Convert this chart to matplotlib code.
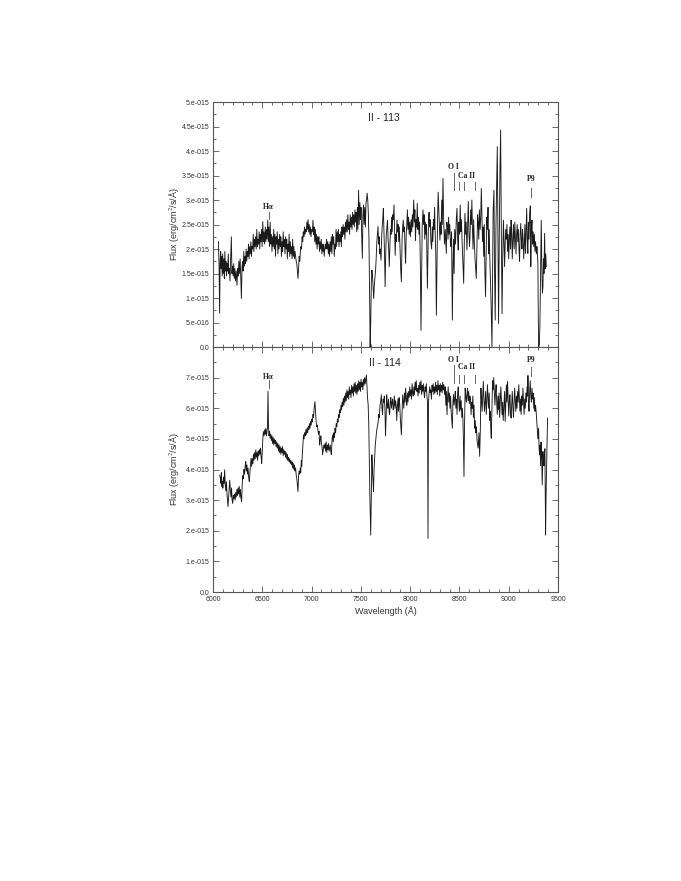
import numpy as np
import matplotlib
matplotlib.use("Agg")
import matplotlib.pyplot as plt
from matplotlib.ticker import MultipleLocator, FuncFormatter

# ------------------ DATOS (flujo en unidades de 1e-15 erg/cm2/s/A) ------------------
wl_113 = [6055, 6062, 6067, 6072, 6078, 6083, 6088, 6093, 6098, 6104, 6110, 6115, 6120, 6126, 6131, 6137,
          6142, 6148, 6155, 6160, 6166, 6172, 6178, 6186, 6192, 6198, 6204, 6210, 6216, 6222, 6228, 6236,
          6243, 6250, 6256, 6262, 6268, 6275, 6282, 6288, 6294, 6300, 6306, 6312, 6318, 6324, 6330, 6336,
          6342, 6348, 6354, 6360, 6366, 6372, 6378, 6384, 6390, 6396, 6402, 6408, 6414, 6420, 6426, 6432,
          6438, 6444, 6450, 6456, 6462, 6468, 6474, 6480, 6486, 6492, 6498, 6505, 6511, 6517, 6523, 6530,
          6536, 6542, 6548, 6555, 6561, 6567, 6573, 6580, 6586, 6592, 6598, 6604, 6610, 6616, 6622, 6628,
          6634, 6640, 6646, 6652, 6658, 6664, 6670, 6676, 6682, 6688, 6694, 6700, 6706, 6712, 6718, 6724,
          6730, 6736, 6742, 6748, 6754, 6760, 6766, 6772, 6778, 6784, 6790, 6796, 6802, 6808, 6814, 6820,
          6826, 6832, 6838, 6844, 6850, 6856, 6862, 6868, 6874, 6880, 6886, 6892, 6898, 6904, 6910, 6916,
          6922, 6928, 6934, 6940, 6946, 6952, 6958, 6964, 6970, 6976, 6982, 6988, 6994, 7000, 7008, 7014,
          7020, 7026, 7032, 7038, 7044, 7050, 7056, 7062, 7068, 7074, 7080, 7086, 7092, 7098, 7104, 7110,
          7116, 7122, 7128, 7134, 7140, 7146, 7152, 7158, 7164, 7170, 7176, 7182, 7188, 7194, 7200, 7206,
          7212, 7218, 7224, 7230, 7236, 7242, 7248, 7254, 7260, 7266, 7272, 7278, 7284, 7290, 7296, 7302,
          7308, 7314, 7320, 7326, 7332, 7338, 7344, 7350, 7356, 7362, 7368, 7374, 7380, 7386, 7392, 7398,
          7404, 7410, 7416, 7422, 7428, 7434, 7440, 7446, 7452, 7458, 7464, 7470, 7477, 7483, 7490, 7496,
          7502, 7508, 7515, 7521, 7527, 7533, 7540, 7546, 7552, 7558, 7563, 7570, 7576, 7582, 7588, 7594,
          7600, 7606, 7612, 7618, 7624, 7630, 7636, 7642, 7650, 7656, 7662, 7668, 7674, 7680, 7686, 7692,
          7698, 7704, 7710, 7716, 7722, 7728, 7734, 7740, 7746, 7752, 7758, 7764, 7770, 7776, 7782, 7788,
          7794, 7800, 7806, 7812, 7818, 7824, 7830, 7836, 7842, 7848, 7854, 7860, 7866, 7872, 7878, 7884,
          7890, 7896, 7904, 7911, 7918, 7924, 7930, 7936, 7942, 7948, 7954, 7960, 7966, 7972, 7978, 7984,
          7990, 7996, 8002, 8010, 8016, 8022, 8028, 8036, 8042, 8048, 8054, 8060, 8066, 8072, 8078, 8084,
          8090, 8096, 8104, 8110, 8116, 8122, 8130, 8136, 8142, 8148, 8154, 8160, 8166, 8170, 8175, 8180,
          8186, 8192, 8198, 8204, 8210, 8218, 8224, 8230, 8236, 8242, 8248, 8254, 8260, 8266, 8272, 8278,
          8284, 8290, 8296, 8302, 8308, 8314, 8320, 8326, 8333, 8340, 8348, 8356, 8360, 8367, 8372, 8378,
          8384, 8390, 8396, 8402, 8408, 8414, 8420, 8428, 8434, 8440, 8446, 8452, 8460, 8468, 8475, 8482,
          8488, 8494, 8500, 8508, 8514, 8520, 8528, 8535, 8543, 8550, 8556, 8562, 8568, 8576, 8582, 8590,
          8596, 8602, 8608, 8614, 8620, 8626, 8632, 8638, 8644, 8650, 8658, 8665, 8671, 8678, 8684, 8690,
          8696, 8702, 8710, 8716, 8722, 8728, 8734, 8740, 8746, 8752, 8758, 8765, 8772, 8778, 8784, 8790,
          8796, 8802, 8808, 8815, 8822, 8830, 8836, 8842, 8850, 8856, 8863, 8870, 8877, 8884, 8890, 8897,
          8904, 8911, 8918, 8924, 8932, 8939, 8946, 8952, 8958, 8964, 8970, 8976, 8982, 8988, 8994, 9000,
          9006, 9012, 9018, 9024, 9030, 9036, 9042, 9048, 9055, 9062, 9068, 9074, 9080, 9086, 9092, 9098,
          9104, 9110, 9116, 9122, 9128, 9134, 9140, 9146, 9152, 9158, 9164, 9170, 9176, 9182, 9188, 9194,
          9200, 9206, 9212, 9219, 9224, 9230, 9236, 9242, 9248, 9254, 9260, 9266, 9272, 9280, 9286, 9290,
          9296, 9300, 9304, 9310, 9316, 9322, 9330, 9336, 9342, 9347, 9352, 9358, 9364, 9370, 9376, 9381]
flux_113 = [2.15, 1.60, 0.69, 1.75, 1.95, 1.60, 1.85, 1.45, 1.90, 1.50, 1.80, 1.40, 1.95, 1.55, 1.75, 1.45,
            1.70, 1.55, 1.90, 1.50, 1.60, 1.35, 1.75, 2.25, 1.50, 1.65, 1.45, 1.70, 1.40, 1.60, 1.35, 1.55,
            1.26, 1.60, 1.45, 1.75, 1.50, 1.80, 1.40, 0.99, 1.60, 1.75, 1.55, 1.95, 1.65, 1.85, 1.70, 2.00,
            1.75, 1.95, 1.85, 2.10, 1.80, 2.05, 1.90, 2.15, 1.85, 2.05, 2.00, 2.30, 1.95, 2.20, 2.05, 2.25,
            2.00, 2.40, 2.05, 2.20, 2.10, 2.35, 2.00, 2.30, 2.15, 2.40, 2.05, 2.56, 2.15, 2.35, 2.10, 2.45,
            2.15, 2.40, 2.20, 2.59, 2.15, 2.45, 2.05, 2.55, 2.10, 2.30, 1.95, 2.25, 2.05, 2.40, 2.00, 2.30,
            1.85, 2.25, 2.10, 2.35, 1.90, 2.20, 2.00, 2.30, 2.05, 2.25, 1.85, 2.15, 1.95, 2.35, 2.05, 2.20,
            1.90, 2.25, 2.00, 2.20, 1.80, 2.10, 1.95, 2.30, 1.85, 2.15, 1.90, 2.05, 1.80, 2.20, 1.85, 2.05,
            1.80, 1.95, 1.85, 1.75, 1.70, 1.55, 1.40, 1.60, 1.85, 1.75, 1.95, 2.05, 2.00, 2.25, 2.15, 2.35,
            2.25, 2.45, 2.30, 2.40, 2.35, 2.55, 2.40, 2.60, 2.35, 2.50, 2.30, 2.45, 2.25, 2.40, 2.35, 2.59,
            2.30, 2.45, 2.15, 2.40, 2.10, 2.30, 2.00, 2.25, 2.10, 2.25, 1.95, 2.15, 2.00, 2.20, 1.90, 2.10,
            1.95, 2.10, 1.85, 2.00, 2.10, 2.00, 2.20, 2.00, 2.15, 1.90, 2.10, 1.85, 2.15, 1.95, 2.25, 1.90,
            2.30, 2.10, 2.25, 1.85, 2.10, 2.00, 2.40, 2.05, 2.35, 2.15, 2.40, 2.05, 2.30, 2.15, 2.35, 2.05,
            2.45, 2.25, 2.50, 2.30, 2.45, 2.20, 2.55, 2.35, 2.60, 2.35, 2.70, 2.40, 2.55, 2.30, 2.70, 2.45,
            2.65, 2.40, 2.75, 2.50, 2.70, 2.45, 2.80, 2.55, 2.75, 2.35, 2.85, 2.40, 3.20, 2.50, 2.95, 2.60,
            2.85, 2.30, 1.81, 2.70, 2.90, 2.50, 2.85, 2.45, 2.95, 3.00, 3.14, 3.00, 2.70, 2.20, 1.20, 0.00,
            0.50, 1.30, 1.57, 1.45, 1.20, 0.99, 1.25, 1.40, 1.60, 1.84, 2.15, 2.30, 2.46, 2.10, 2.25, 1.90,
            2.00, 1.77, 2.20, 2.45, 2.60, 2.83, 2.40, 1.90, 1.23, 1.90, 2.30, 2.45, 2.59, 2.20, 2.00, 1.64,
            2.05, 2.40, 2.30, 2.65, 2.35, 2.70, 2.60, 2.90, 2.40, 1.87, 2.30, 2.15, 2.59, 2.35, 2.50, 2.15,
            2.45, 2.10, 1.60, 1.33, 2.20, 2.45, 2.59, 2.35, 2.45, 2.00, 1.71, 2.30, 2.50, 2.80, 2.40, 2.65,
            2.30, 2.55, 2.25, 2.60, 2.35, 2.70, 2.45, 3.00, 2.55, 2.80, 2.17, 2.60, 2.45, 2.93, 2.40, 2.65,
            2.30, 2.55, 1.60, 0.34, 1.50, 2.45, 2.80, 2.50, 2.70, 2.20, 2.55, 2.30, 2.50, 1.80, 1.20, 1.90,
            2.60, 2.75, 2.45, 2.60, 2.15, 2.00, 2.45, 2.15, 2.60, 2.40, 2.85, 2.30, 1.90, 0.65, 1.70, 2.60,
            3.16, 2.80, 2.50, 2.18, 2.55, 2.30, 3.00, 2.50, 3.44, 2.60, 2.10, 2.40, 2.20, 1.91, 2.55, 2.46,
            2.20, 2.65, 2.30, 2.50, 2.15, 2.05, 2.35, 0.55, 1.60, 2.20, 1.50, 2.40, 2.10, 2.60, 2.83, 2.20,
            1.98, 2.55, 2.30, 2.90, 2.35, 2.60, 2.10, 1.75, 1.30, 2.20, 2.73, 2.30, 2.55, 1.98, 2.40, 2.97,
            2.35, 2.05, 2.30, 2.80, 2.50, 3.00, 2.40, 2.00, 2.60, 2.20, 1.80, 1.60, 1.40, 2.10, 2.70, 2.55,
            2.20, 2.80, 2.40, 2.65, 3.24, 2.70, 2.15, 2.45, 1.85, 2.50, 1.55, 1.03, 2.00, 2.65, 2.40, 2.85,
            1.90, 2.40, 1.80, 1.35, 0.80, 0.00, 1.50, 2.80, 3.20, 1.60, 0.55, 2.40, 3.30, 4.09, 2.30, 0.48,
            2.20, 3.60, 4.43, 2.60, 0.68, 1.80, 2.59, 2.20, 1.64, 2.10, 2.40, 2.20, 2.50, 1.95, 2.30, 1.80,
            2.20, 2.45, 2.00, 2.59, 2.30, 1.80, 2.20, 2.50, 2.00, 2.55, 2.20, 1.90, 2.30, 2.50, 2.15, 2.40,
            2.00, 1.75, 2.30, 2.52, 2.20, 2.00, 2.40, 2.20, 1.80, 2.10, 2.50, 1.91, 2.40, 2.83, 2.20, 1.91,
            2.55, 2.20, 2.70, 2.88, 1.64, 2.40, 2.59, 2.10, 2.35, 2.05, 2.30, 1.95, 2.15, 1.90, 2.05, 1.95,
            1.70, 0.60, 0.00, 0.05, 0.40, 1.30, 2.59, 1.60, 1.10, 1.23, 1.80, 1.50, 2.32, 1.60, 1.90, 1.64]

wl_114 = [6068, 6075, 6080, 6085, 6090, 6095, 6100, 6106, 6112, 6118, 6124, 6130, 6136, 6142, 6146, 6152,
          6158, 6164, 6170, 6176, 6182, 6188, 6194, 6200, 6206, 6212, 6218, 6224, 6230, 6236, 6242, 6248,
          6254, 6260, 6266, 6272, 6278, 6284, 6290, 6296, 6302, 6308, 6314, 6320, 6326, 6332, 6338, 6344,
          6350, 6356, 6362, 6368, 6374, 6380, 6386, 6392, 6398, 6404, 6410, 6416, 6422, 6428, 6434, 6440,
          6446, 6452, 6458, 6464, 6470, 6476, 6482, 6488, 6494, 6500, 6506, 6512, 6518, 6524, 6530, 6536,
          6542, 6548, 6552, 6558, 6563, 6568, 6574, 6580, 6586, 6592, 6598, 6604, 6610, 6616, 6622, 6628,
          6634, 6640, 6646, 6652, 6658, 6664, 6670, 6676, 6682, 6688, 6694, 6700, 6706, 6712, 6718, 6724,
          6730, 6736, 6742, 6748, 6754, 6760, 6766, 6772, 6778, 6784, 6790, 6796, 6802, 6808, 6814, 6820,
          6826, 6832, 6838, 6844, 6850, 6856, 6862, 6868, 6874, 6880, 6886, 6890, 6896, 6900, 6906, 6912,
          6918, 6924, 6930, 6936, 6942, 6948, 6954, 6960, 6966, 6972, 6978, 6984, 6990, 6996, 7002, 7008,
          7014, 7020, 7026, 7034, 7040, 7046, 7052, 7058, 7064, 7070, 7076, 7082, 7088, 7094, 7100, 7106,
          7112, 7118, 7124, 7130, 7136, 7142, 7148, 7154, 7160, 7166, 7172, 7178, 7184, 7190, 7196, 7201,
          7208, 7214, 7220, 7226, 7232, 7238, 7244, 7250, 7256, 7262, 7268, 7274, 7280, 7286, 7292, 7298,
          7304, 7310, 7316, 7322, 7328, 7334, 7340, 7346, 7352, 7358, 7364, 7370, 7376, 7382, 7388, 7394,
          7400, 7406, 7412, 7418, 7424, 7430, 7436, 7442, 7448, 7454, 7460, 7466, 7472, 7478, 7484, 7490,
          7496, 7502, 7508, 7514, 7520, 7526, 7532, 7538, 7544, 7550, 7556, 7562, 7568, 7574, 7580, 7586,
          7592, 7600, 7606, 7612, 7618, 7624, 7628, 7634, 7640, 7646, 7652, 7658, 7664, 7670, 7676, 7682,
          7688, 7694, 7700, 7708, 7714, 7720, 7726, 7732, 7738, 7744, 7750, 7756, 7762, 7768, 7774, 7780,
          7786, 7792, 7798, 7804, 7810, 7816, 7822, 7828, 7834, 7840, 7846, 7852, 7858, 7864, 7870, 7876,
          7882, 7888, 7894, 7900, 7906, 7911, 7918, 7924, 7930, 7936, 7942, 7948, 7954, 7960, 7966, 7972,
          7978, 7984, 7990, 7996, 8002, 8008, 8014, 8020, 8026, 8032, 8038, 8044, 8050, 8056, 8062, 8068,
          8074, 8080, 8086, 8092, 8098, 8104, 8110, 8116, 8122, 8128, 8134, 8140, 8146, 8152, 8158, 8164,
          8170, 8176, 8179, 8181, 8183, 8186, 8192, 8198, 8204, 8210, 8216, 8222, 8228, 8234, 8240, 8246,
          8252, 8258, 8264, 8270, 8276, 8282, 8288, 8294, 8300, 8306, 8312, 8318, 8324, 8330, 8336, 8342,
          8350, 8356, 8362, 8368, 8374, 8380, 8386, 8392, 8398, 8404, 8410, 8416, 8422, 8428, 8434, 8440,
          8446, 8452, 8458, 8464, 8470, 8476, 8482, 8488, 8494, 8500, 8506, 8512, 8518, 8524, 8530, 8536,
          8540, 8546, 8552, 8558, 8564, 8570, 8576, 8582, 8588, 8594, 8600, 8606, 8612, 8618, 8624, 8630,
          8636, 8642, 8648, 8654, 8660, 8666, 8672, 8680, 8690, 8698, 8705, 8712, 8718, 8724, 8730, 8736,
          8742, 8748, 8754, 8760, 8766, 8772, 8778, 8784, 8790, 8796, 8802, 8808, 8814, 8818, 8823, 8830,
          8836, 8842, 8848, 8854, 8860, 8866, 8872, 8878, 8884, 8890, 8896, 8902, 8908, 8914, 8920, 8926,
          8932, 8938, 8944, 8950, 8958, 8964, 8970, 8976, 8982, 8988, 8994, 9000, 9006, 9012, 9018, 9024,
          9030, 9036, 9042, 9048, 9054, 9060, 9066, 9072, 9078, 9084, 9090, 9096, 9102, 9108, 9114, 9120,
          9126, 9132, 9138, 9144, 9150, 9156, 9162, 9168, 9174, 9180, 9186, 9192, 9195, 9200, 9206, 9212,
          9218, 9224, 9230, 9236, 9242, 9248, 9254, 9260, 9266, 9272, 9278, 9284, 9290, 9296, 9303, 9308,
          9313, 9318, 9323, 9328, 9333, 9340, 9347, 9352, 9357, 9362, 9367, 9371, 9374, 9379, 9384, 9389,
          9394]
flux_114 = [3.82, 3.70, 3.55, 3.90, 3.45, 3.61, 3.39, 3.75, 3.55, 3.99, 3.50, 3.30, 3.60, 3.20, 3.05, 2.79,
            3.10, 3.39, 3.65, 3.30, 3.10, 3.40, 3.00, 2.90, 3.15, 3.05, 3.20, 3.00, 3.25, 3.10, 3.35, 3.15,
            3.40, 3.20, 3.45, 3.10, 3.35, 3.05, 2.95, 3.50, 3.80, 3.70, 4.00, 3.85, 4.10, 4.26, 3.95, 4.15,
            3.85, 4.04, 3.75, 3.61, 3.90, 4.15, 4.37, 4.10, 4.35, 4.20, 4.50, 4.30, 4.55, 4.35, 4.64, 4.40,
            4.55, 4.30, 4.60, 4.45, 4.65, 4.50, 4.70, 4.40, 4.20, 4.60, 5.05, 5.24, 5.10, 5.30, 5.15, 5.35,
            5.10, 5.25, 5.35, 6.55, 5.40, 5.10, 5.25, 5.02, 5.15, 4.95, 5.10, 4.85, 5.05, 4.80, 5.00, 4.85,
            4.95, 4.75, 4.90, 4.70, 4.85, 4.60, 4.80, 4.55, 4.75, 4.50, 4.70, 4.55, 4.75, 4.45, 4.65, 4.50,
            4.60, 4.40, 4.55, 4.35, 4.50, 4.30, 4.40, 4.25, 4.35, 4.20, 4.30, 4.15, 4.25, 4.05, 4.20, 4.00,
            4.15, 3.95, 4.05, 3.82, 3.70, 3.50, 3.28, 3.80, 3.95, 3.85, 4.05, 3.90, 4.30, 4.10, 4.50, 4.80,
            5.13, 5.00, 5.20, 5.10, 5.30, 5.15, 5.35, 5.20, 5.40, 5.30, 5.50, 5.35, 5.57, 5.45, 5.65, 5.55,
            5.80, 5.70, 6.00, 6.22, 5.90, 5.57, 5.40, 5.45, 5.30, 5.15, 5.25, 4.80, 5.00, 5.10, 4.85, 4.75,
            4.48, 4.65, 4.80, 4.70, 4.85, 4.60, 4.90, 4.55, 4.80, 4.65, 4.85, 4.60, 4.70, 4.80, 4.55, 4.48,
            5.00, 5.13, 4.90, 5.20, 5.05, 5.35, 5.20, 5.50, 5.40, 5.65, 5.55, 5.79, 5.70, 5.95, 5.85, 6.10,
            5.95, 6.20, 6.05, 6.33, 6.10, 6.40, 6.20, 6.50, 6.25, 6.60, 6.35, 6.55, 6.30, 6.70, 6.45, 6.60,
            6.35, 6.75, 6.50, 6.70, 6.40, 6.80, 6.55, 6.85, 6.50, 6.75, 6.45, 6.80, 6.55, 6.90, 6.60, 6.85,
            6.55, 6.95, 6.70, 6.85, 6.60, 6.95, 6.75, 7.00, 6.80, 6.95, 7.09, 6.70, 6.33, 6.11, 5.50, 4.30,
            3.00, 1.86, 3.20, 4.48, 3.90, 3.60, 3.28, 4.00, 4.40, 4.80, 5.02, 5.20, 5.35, 5.45, 5.57, 5.80,
            5.70, 6.10, 6.20, 6.44, 6.00, 5.80, 6.30, 6.20, 6.40, 6.00, 5.10, 5.70, 6.44, 6.10, 6.00, 6.30,
            5.90, 5.80, 6.20, 6.35, 6.00, 6.20, 6.30, 5.95, 6.10, 6.40, 6.00, 6.25, 6.10, 5.60, 6.05, 6.30,
            5.90, 6.35, 6.15, 5.70, 5.40, 5.13, 5.80, 6.44, 6.20, 6.00, 6.50, 6.20, 6.66, 6.30, 6.10, 6.50,
            6.20, 6.55, 6.35, 6.70, 6.40, 6.60, 6.30, 6.80, 6.50, 6.40, 6.70, 6.45, 6.85, 6.60, 6.90, 6.55,
            6.65, 6.40, 6.75, 6.50, 6.85, 6.60, 6.90, 6.45, 6.75, 6.55, 6.80, 6.50, 6.35, 6.70, 6.55, 6.80,
            6.40, 6.20, 3.60, 1.75, 3.40, 6.20, 6.50, 6.70, 6.50, 6.60, 6.30, 6.75, 6.55, 6.80, 6.45, 6.70,
            6.50, 6.85, 6.55, 6.75, 6.45, 6.90, 6.60, 6.75, 6.40, 6.80, 6.55, 6.75, 6.50, 6.85, 6.60, 6.77,
            6.45, 6.70, 6.10, 6.55, 5.79, 6.40, 6.70, 6.20, 6.50, 6.00, 6.40, 5.90, 5.60, 5.35, 6.20, 6.45,
            6.10, 6.30, 6.55, 6.00, 6.30, 5.80, 6.50, 6.70, 6.20, 5.90, 6.40, 5.95, 6.25, 5.70, 6.00, 5.57,
            5.00, 3.77, 5.50, 6.66, 6.40, 6.20, 6.45, 6.66, 6.25, 6.55, 6.15, 6.40, 6.30, 5.79, 6.20, 6.00,
            6.40, 5.70, 6.10, 5.35, 5.60, 5.20, 5.40, 4.90, 4.70, 5.20, 4.43, 5.30, 6.66, 6.20, 5.90, 6.40,
            6.88, 6.30, 5.90, 6.20, 6.55, 5.80, 6.20, 6.77, 6.40, 6.00, 6.50, 5.60, 5.90, 5.30, 5.02, 6.00,
            6.90, 6.60, 7.00, 6.50, 6.10, 6.50, 6.77, 6.20, 5.80, 6.40, 5.95, 6.50, 5.70, 6.20, 6.70, 6.30,
            5.79, 6.20, 5.60, 6.00, 6.55, 5.57, 6.10, 6.77, 6.20, 6.88, 6.30, 5.75, 6.20, 6.44, 5.90, 5.68,
            6.10, 6.55, 6.05, 5.70, 6.20, 6.66, 6.30, 5.90, 6.40, 6.00, 6.55, 6.20, 6.77, 6.30, 5.90, 6.30,
            5.80, 6.40, 6.10, 6.66, 6.20, 5.80, 6.30, 6.00, 6.50, 6.20, 6.70, 6.40, 7.07, 6.20, 5.90, 6.50,
            6.90, 6.40, 6.20, 6.66, 6.30, 6.50, 6.00, 6.35, 5.90, 6.10, 5.90, 5.60, 5.35, 5.00, 5.35, 4.70,
            4.48, 4.80, 4.12, 4.90, 4.60, 3.50, 4.59, 4.30, 4.12, 4.50, 4.68, 3.00, 1.86, 3.20, 4.12, 4.90,
            5.68]

# lineas identificadas: (nombre, longitud de onda)
lineas = ["Ha", "OI", "CaII_1", "CaII_2", "CaII_3", "P9"]
lineas_wl = [6563, 8446, 8498, 8542, 8662, 9229]

# marcas de identificacion por panel (y0, y1 en 1e-15)
marcas_113 = {"Ha": (2.61, 2.76), "OI": (3.20, 3.55), "CaII_1": (3.20, 3.37), "CaII_2": (3.20, 3.37),
              "CaII_3": (3.20, 3.37), "P9": (3.06, 3.24)}
marcas_114 = {"Ha": (6.67, 6.93), "OI": (6.83, 7.42), "CaII_1": (6.83, 7.09), "CaII_2": (6.83, 7.09),
              "CaII_3": (6.83, 7.09), "P9": (7.04, 7.36)}
textos_113 = [("H$\\mathbf{\\alpha}$", 6566, 2.87), ("O I", 8437, 3.67), ("Ca II", 8568, 3.49), ("P9", 9225, 3.42)]
textos_114 = [("H$\\mathbf{\\alpha}$", 6566, 7.04), ("O I", 8437, 7.58), ("Ca II", 8568, 7.36), ("P9", 9225, 7.58)]

# ------------------ GRAFICO ------------------
plt.rcParams["font.family"] = ["Liberation Sans", "DejaVu Sans"]
plt.rcParams["mathtext.fontset"] = "stix"

ESCALA = 1e-15
GRIS = "#555555"


def etiqueta_y(v, pos):
    if abs(v) < 1e-30:
        return "0.0"
    exp = int(np.floor(np.log10(abs(v)) + 1e-9))
    m = v / 10 ** exp
    ms = f"{m:g}"
    if "." not in ms:
        ms += "."
    return f"{ms}e-{abs(exp):03d}"


def estilo(ax, ymax, mayor, menor):
    ax.set_xlim(6000, 9500)
    ax.set_ylim(0, ymax)
    ax.xaxis.set_major_locator(MultipleLocator(500))
    ax.xaxis.set_minor_locator(MultipleLocator(100))
    ax.yaxis.set_major_locator(MultipleLocator(mayor))
    ax.yaxis.set_minor_locator(MultipleLocator(menor))
    ax.yaxis.set_major_formatter(FuncFormatter(etiqueta_y))
    ax.tick_params(which="both", direction="in", top=True, right=True, color=GRIS, width=0.6)
    ax.tick_params(which="major", length=4, labelsize=5, pad=2.5, labelcolor="#333333")
    ax.tick_params(which="minor", length=2.2)
    for s in ax.spines.values():
        s.set_color(GRIS)
        s.set_linewidth(0.8)


def anotar(ax, marcas, textos):
    for nombre, wl in zip(lineas, lineas_wl):
        y0, y1 = marcas[nombre]
        ax.plot([wl, wl], [y0 * ESCALA, y1 * ESCALA], color="#666666", lw=0.7)
    for txt, x, y in textos:
        ax.text(x, y * ESCALA, txt, ha="center", va="center", fontsize=5.5, fontweight="bold",
                family=["Liberation Serif", "DejaVu Serif"], color="#222222")


fig = plt.figure(figsize=(6.81, 8.81), dpi=100, facecolor="white")
ax1 = fig.add_axes([0.3128, 0.6061, 0.5066, 0.2781])
ax2 = fig.add_axes([0.3128, 0.3280, 0.5066, 0.2781])

ax1.plot(wl_113, np.array(flux_113) * ESCALA, color="#1a1a1a", lw=0.65)
ax2.plot(wl_114, np.array(flux_114) * ESCALA, color="#1a1a1a", lw=0.65)

estilo(ax1, 5e-15, 5e-16, 2.5e-16)
estilo(ax2, 8e-15, 1e-15, 5e-16)
ax1.tick_params(labelbottom=False)
ax2.set_yticks(np.arange(0, 8e-15, 1e-15))
ax2.yaxis.set_major_formatter(FuncFormatter(etiqueta_y))

anotar(ax1, marcas_113, textos_113)
anotar(ax2, marcas_114, textos_114)

ax1.text(0.495, 0.935, "II - 113", transform=ax1.transAxes, ha="center", va="center", fontsize=7.5, color="#222222")
ax2.text(0.498, 0.936, "II - 114", transform=ax2.transAxes, ha="center", va="center", fontsize=7.5, color="#222222")

for ax in (ax1, ax2):
    ax.set_ylabel("Flux (erg/cm$^2$/s/Å)", fontsize=6.5, color="#333333")
    ax.yaxis.set_label_coords(-0.093, 0.5)
ax2.set_xlabel("Wavelength (Å)", fontsize=6.5, color="#333333", labelpad=3)

fig.savefig("out.png", dpi=100, facecolor="white")
